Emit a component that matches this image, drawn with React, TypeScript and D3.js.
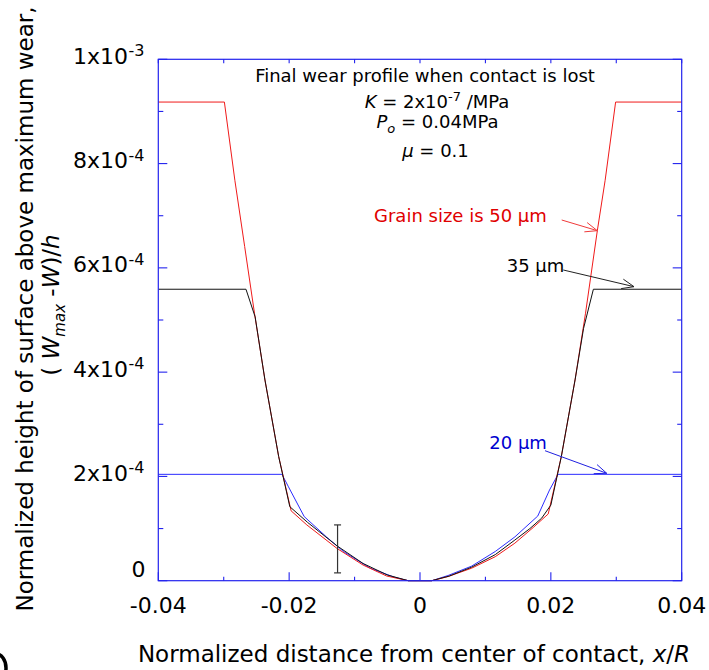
import React from "react";
import * as d3 from "d3";

// ---- Data (y values are absolute, x is normalized distance x/R) ----
const redX = [-0.04, -0.0299, -0.0283, -0.0268, -0.0253, -0.0237, -0.0216, -0.0197, -0.0173, -0.0127, -0.0087, -0.0051, -0.0018, 0.0018, 0.0043, 0.0079, 0.0115, 0.0145, 0.0173, 0.0196, 0.0216, 0.0237, 0.0253, 0.0271, 0.0283, 0.0299, 0.04];
const redY = [9.18e-4, 9.18e-4, 7.68e-4, 6.41e-4, 5.13e-4, 3.85e-4, 2.38e-4, 1.34e-4, 1.07e-4, 0.62e-4, 0.30e-4, 0.09e-4, 0, 0, 0.08e-4, 0.24e-4, 0.46e-4, 0.72e-4, 1.02e-4, 1.28e-4, 2.38e-4, 3.85e-4, 5.13e-4, 6.71e-4, 7.68e-4, 9.18e-4, 9.18e-4];

const blackX = [-0.04, -0.0266, -0.0252, -0.0237, -0.0216, -0.0199, -0.0172, -0.0127, -0.0087, -0.005, -0.0018, 0.0018, 0.0045, 0.0079, 0.0115, 0.0145, 0.0168, 0.0186, 0.02, 0.0216, 0.0237, 0.025, 0.0265, 0.04];
const blackY = [5.59e-4, 5.59e-4, 5.06e-4, 3.85e-4, 2.38e-4, 1.42e-4, 1.12e-4, 0.67e-4, 0.33e-4, 0.11e-4, 0, 0, 0.09e-4, 0.26e-4, 0.5e-4, 0.78e-4, 1.0e-4, 1.2e-4, 1.45e-4, 2.38e-4, 3.85e-4, 4.84e-4, 5.59e-4, 5.59e-4];

const blueX = [-0.04, -0.0211, -0.0201, -0.0177, -0.0143, -0.0117, -0.0076, -0.004, -0.0018, 0.0018, 0.0043, 0.0079, 0.0115, 0.0145, 0.018, 0.0198, 0.0211, 0.04];
const blueY = [2.04e-4, 2.04e-4, 1.8e-4, 1.23e-4, 0.84e-4, 0.56e-4, 0.24e-4, 0.07e-4, 0, 0, 0.1e-4, 0.28e-4, 0.56e-4, 0.84e-4, 1.24e-4, 1.74e-4, 2.04e-4, 2.04e-4];

// error bar
const errX = [-0.0126];
const errLow = [0.15e-4];
const errHigh = [1.07e-4];

// ticks
const xMajorTicks = [-0.04, -0.02, 0, 0.02, 0.04];
const xTickLabels = ["-0.04", "-0.02", "0", "0.02", "0.04"];
const xMinorTicks = [-0.03, -0.01, 0.01, 0.03];
const yMajorTicks = [0, 2e-4, 4e-4, 6e-4, 8e-4, 1e-3];
const yTickMantissa = ["0", "2x10", "4x10", "6x10", "8x10", "1x10"];
const yTickExponent = ["", "-4", "-4", "-4", "-4", "-3"];
const yMinorTicks = [1e-4, 3e-4, 5e-4, 7e-4, 9e-4];

// annotation anchors (data coordinates)
const annRed = { text: [-0.00703, 6.885e-4], from: [0.02166, 6.918e-4], to: [0.0271, 6.713e-4] };
const annBlack = { text: [0.01325, 5.926e-4], from: [0.0219, 5.959e-4], to: [0.03271, 5.639e-4] };
const annBlue = { text: [0.01059, 2.52e-4], from: [0.01911, 2.493e-4], to: [0.02854, 2.06e-4] };

const FONT = "DejaVu Sans";
const AXIS = "#2323ee";

export default function App() {
  const W = 709, H = 670;
  const x = d3.scaleLinear().domain([-0.04, 0.04]).range([158.3, 681.7]);
  const y = d3.scaleLinear().domain([0, 1e-3]).range([580.7, 59.3]);
  const line = d3.line<[number, number]>().x(d => x(d[0])).y(d => y(d[1]));
  const zip = (a: number[], b: number[]) => a.map((v, i) => [v, b[i]] as [number, number]);

  const [x0, x1] = x.range();
  const [y0, y1] = y.range();

  const arrow = (from: number[], to: number[], color: string) => {
    const fx = x(from[0]), fy = y(from[1]), tx = x(to[0]), ty = y(to[1]);
    const a = Math.atan2(ty - fy, tx - fx);
    const L = 13, th = 0.38;
    const p1 = [tx - L * Math.cos(a - th), ty - L * Math.sin(a - th)];
    const p2 = [tx - L * Math.cos(a + th), ty - L * Math.sin(a + th)];
    return (
      <g stroke={color} strokeWidth={1} fill="none">
        <line x1={fx} y1={fy} x2={tx} y2={ty} />
        <path d={`M${p1[0]},${p1[1]}L${tx},${ty}L${p2[0]},${p2[1]}`} />
      </g>
    );
  };

  return (
    <svg width={W} height={H} style={{ position: "absolute", left: 0, top: 0, background: "#fff" }} fontFamily={FONT}>
      <rect x={0} y={0} width={W} height={H} fill="#fff" />

      {/* curves */}
      <path d={line(zip(blueX, blueY)) || ""} fill="none" stroke="#2b2bff" strokeWidth={1} />
      <path d={line(zip(redX, redY)) || ""} fill="none" stroke="#f01a1a" strokeWidth={1} />
      <path d={line(zip(blackX, blackY)) || ""} fill="none" stroke="#111" strokeWidth={1} />

      {/* error bar */}
      {errX.map((ex, i) => (
        <g key={i} stroke="#333" strokeWidth={1.2}>
          <line x1={x(ex)} x2={x(ex)} y1={y(errLow[i])} y2={y(errHigh[i])} />
          <line x1={x(ex) - 3.5} x2={x(ex) + 3.5} y1={y(errLow[i])} y2={y(errLow[i])} />
          <line x1={x(ex) - 3.5} x2={x(ex) + 3.5} y1={y(errHigh[i])} y2={y(errHigh[i])} />
        </g>
      ))}

      {/* frame */}
      <rect x={x0} y={y1} width={x1 - x0} height={y0 - y1} fill="none" stroke={AXIS} strokeWidth={1.2} />
      {xMajorTicks.map((t, i) => (
        <g key={"xm" + i} stroke={AXIS} strokeWidth={1.1}>
          <line x1={x(t)} x2={x(t)} y1={y0} y2={y0 - 8.5} />
          <line x1={x(t)} x2={x(t)} y1={y1} y2={y1 + 4} />
        </g>
      ))}
      {xMinorTicks.map((t, i) => (
        <g key={"xn" + i} stroke={AXIS} strokeWidth={1.1}>
          <line x1={x(t)} x2={x(t)} y1={y0} y2={y0 - 4} />
          <line x1={x(t)} x2={x(t)} y1={y1} y2={y1 + 4} />
        </g>
      ))}
      {yMajorTicks.map((t, i) => (
        <g key={"ym" + i} stroke={AXIS} strokeWidth={1.1}>
          <line x1={x0} x2={x0 + 9} y1={y(t)} y2={y(t)} />
          <line x1={x1} x2={x1 - 9} y1={y(t)} y2={y(t)} />
        </g>
      ))}
      {yMinorTicks.map((t, i) => (
        <g key={"yn" + i} stroke={AXIS} strokeWidth={1.1}>
          <line x1={x0} x2={x0 + 5} y1={y(t)} y2={y(t)} />
          <line x1={x1} x2={x1 - 4.5} y1={y(t)} y2={y(t)} />
        </g>
      ))}

      {/* x tick labels */}
      {xMajorTicks.map((t, i) => (
        <text key={"xl" + i} x={x(t)} y={612.5} fontSize={22} textAnchor="middle" fill="#000">{xTickLabels[i]}</text>
      ))}
      {/* y tick labels */}
      {yMajorTicks.map((t, i) =>
        yTickExponent[i] === "" ? (
          <text key={"yl" + i} x={145.5} y={y(t) - 3.5} fontSize={22} textAnchor="end" fill="#000">{yTickMantissa[i]}</text>
        ) : (
          <g key={"yl" + i}>
            <text x={128} y={y(t) + 4.5} fontSize={22} textAnchor="end" fill="#000">{yTickMantissa[i]}</text>
            <text x={128.5} y={y(t) - 3} fontSize={16} fill="#000">{yTickExponent[i]}</text>
          </g>
        )
      )}

      {/* axis titles */}
      <text x={414} y={662} fontSize={23} textAnchor="middle" fill="#000">
        Normalized distance from center of contact, <tspan fontStyle="italic">x</tspan>/<tspan fontStyle="italic">R</tspan>
      </text>
      <text transform="translate(33,309) rotate(-90)" fontSize={23} textAnchor="middle" fill="#000">
        Normalized height of surface above maximum wear,
      </text>
      <text transform="translate(59,305) rotate(-90)" fontSize={23} textAnchor="middle" fill="#000">
        {"( "}<tspan fontStyle="italic">W</tspan><tspan fontStyle="italic" fontSize={15} dy={6}>max</tspan><tspan dy={-6}>{" -"}</tspan><tspan fontStyle="italic">W</tspan>)/<tspan fontStyle="italic">h</tspan>
      </text>

      {/* parameter text */}
      <g fill="#000" fontSize={18} textAnchor="middle">
        <text x={425} y={82.3}>Final wear profile when contact is lost</text>
        <text x={437} y={108.3}>
          <tspan fontStyle="italic">K</tspan> = 2x10<tspan fontSize={13} dy={-7}>-7</tspan><tspan dy={7}> /MPa</tspan>
        </text>
        <text x={437.5} y={128.3}>
          <tspan fontStyle="italic">P</tspan><tspan fontStyle="italic" fontSize={13} dy={5}>o</tspan><tspan dy={-5}> = 0.04MPa</tspan>
        </text>
        <text x={435.5} y={157}>
          <tspan fontStyle="italic">μ</tspan> = 0.1
        </text>
      </g>

      {/* annotations */}
      <text x={x(annRed.text[0])} y={y(annRed.text[1])} fontSize={18} fill="#e00000">Grain size is 50 μm</text>
      {arrow(annRed.from, annRed.to, "#f03a3a")}
      <text x={x(annBlack.text[0])} y={y(annBlack.text[1])} fontSize={18} fill="#000">35 μm</text>
      {arrow(annBlack.from, annBlack.to, "#222")}
      <text x={x(annBlue.text[0])} y={y(annBlue.text[1])} fontSize={18} fill="#0000d0">20 μm</text>
      {arrow(annBlue.from, annBlue.to, "#2020e0")}

      {/* clipped panel mark at bottom-left (partial glyph outline) */}
      <ellipse cx={-4} cy={668} rx={10} ry={14} fill="none" stroke="#000" strokeWidth={3.5} />
    </svg>
  );
}
